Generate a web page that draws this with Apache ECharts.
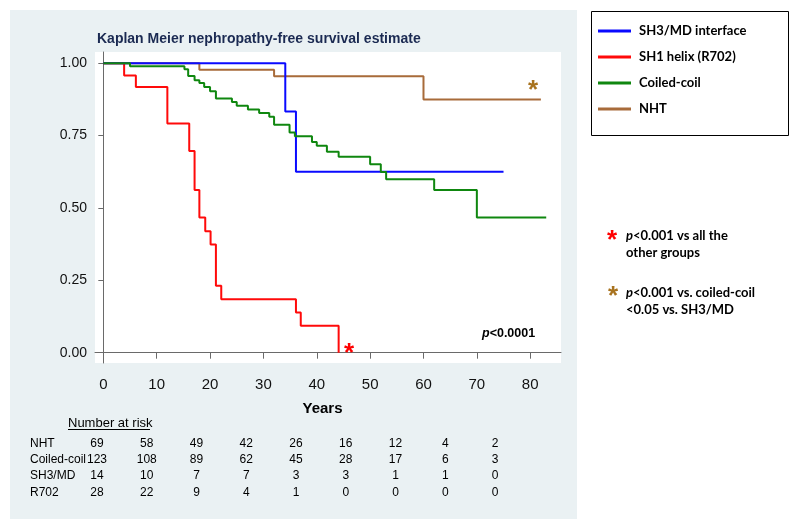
<!DOCTYPE html>
<html><head><meta charset="utf-8">
<script src="https://cdn.jsdelivr.net/npm/echarts@6/dist/echarts.min.js"></script>
<style>html,body{margin:0;padding:0;background:#fff}#c{width:800px;height:530px}</style>
</head><body><div id="c"></div>
<script>
// ---- data ----
const seriesNames = ['SH3/MD interface', 'SH1 helix (R702)', 'Coiled-coil', 'NHT'];
const seriesColors = ['#0a0aff', '#ff0a0a', '#0f870f', '#a86b3a'];
const sh3Years = [0, 34.1, 36.1, 75];
const sh3Surv  = [1, 0.833, 0.625, 0.625];
const r702Years = [0, 3.9, 6.1, 12, 16.1, 17.1, 18, 19.1, 20.1, 21.1, 22.1, 36.1, 37, 44.1];
const r702Surv  = [1, 0.958, 0.918, 0.792, 0.697, 0.562, 0.467, 0.42, 0.374, 0.231, 0.185, 0.139, 0.093, 0];
const ccYears = [0, 5, 15.2, 15.9, 17.1, 18, 18.9, 20, 21.1, 24.1, 25, 27.1, 29.2, 31.1, 32, 34.9, 35.9, 39.1, 40, 41.9, 44.1, 50, 52, 53, 62, 70, 83];
const ccSurv  = [1, 0.99, 0.979, 0.956, 0.941, 0.932, 0.918, 0.903, 0.878, 0.866, 0.853, 0.84, 0.828, 0.815, 0.788, 0.761, 0.748, 0.728, 0.715, 0.694, 0.677, 0.651, 0.624, 0.599, 0.562, 0.467, 0.467];
const nhtYears = [0, 18, 32, 60, 82];
const nhtSurv  = [1, 0.978, 0.955, 0.875, 0.875];
const xTicks = [0, 10, 20, 30, 40, 50, 60, 70, 80];
const yTicks = [0, 0.25, 0.5, 0.75, 1];
const riskRowLabels = ['NHT', 'Coiled-coil', 'SH3/MD', 'R702'];
const riskNHT  = [69, 58, 49, 42, 26, 16, 12, 4, 2];
const riskCC   = [123, 108, 89, 62, 45, 28, 17, 6, 3];
const riskSH3  = [14, 10, 7, 7, 3, 3, 1, 1, 0];
const riskR702 = [28, 22, 9, 4, 1, 0, 0, 0, 0];

const pair = (xs, ys) => xs.map((x, i) => [x, ys[i]]);
const chart = echarts.init(document.getElementById('c'));

const ARIAL = '"Liberation Sans", Arial, sans-serif';
const CAL = 'Lato, "Open Sans", sans-serif';

const graphics = [];
// panel background
graphics.push({type: 'rect', z: -10, shape: {x: 10, y: 10, width: 567, height: 509}, style: {fill: '#eaf1f3'}, silent: true});
// legend box
graphics.push({type: 'rect', z: 5, shape: {x: 591.5, y: 11.5, width: 197, height: 124}, style: {fill: 'none', stroke: '#000', lineWidth: 1}});
// annotations right
graphics.push({type: 'text', z: 5, style: {x: 612, y: 241, text: '*', font: 'bold 26px ' + ARIAL, fill: '#ff0000', textAlign: 'center', textVerticalAlign: 'middle'}});
graphics.push({type: 'text', z: 5, style: {x: 626, y: 236, text: '{i|p}<0.001 vs all the', font: 'bold 13px ' + CAL, fill: '#000', textVerticalAlign: 'middle', rich: {i: {fontStyle: 'italic', fontWeight: 'bold', fontSize: 13, fontFamily: CAL}}}});
graphics.push({type: 'text', z: 5, style: {x: 626, y: 253, text: 'other groups', font: 'bold 13px ' + CAL, fill: '#000', textVerticalAlign: 'middle'}});
graphics.push({type: 'text', z: 5, style: {x: 613, y: 297, text: '*', font: 'bold 26px ' + ARIAL, fill: '#a8731f', textAlign: 'center', textVerticalAlign: 'middle'}});
graphics.push({type: 'text', z: 5, style: {x: 626, y: 293, text: '{i|p}<0.001 vs. coiled-coil', font: 'bold 13px ' + CAL, fill: '#000', textVerticalAlign: 'middle', rich: {i: {fontStyle: 'italic', fontWeight: 'bold', fontSize: 13, fontFamily: CAL}}}});
graphics.push({type: 'text', z: 5, style: {x: 626, y: 310, text: '<0.05 vs. SH3/MD', font: 'bold 13px ' + CAL, fill: '#000', textVerticalAlign: 'middle'}});
// in-plot annotations
graphics.push({type: 'text', z: 5, style: {x: 349, y: 354, text: '*', font: 'bold 26px ' + ARIAL, fill: '#ff0000', textAlign: 'center', textVerticalAlign: 'middle'}});
graphics.push({type: 'text', z: 5, style: {x: 533, y: 91, text: '*', font: 'bold 26px ' + ARIAL, fill: '#a8731f', textAlign: 'center', textVerticalAlign: 'middle'}});
graphics.push({type: 'text', z: 5, style: {x: 482, y: 334, text: '{i|p}<0.0001', font: 'bold 12.5px ' + ARIAL, fill: '#000', textVerticalAlign: 'middle', rich: {i: {fontStyle: 'italic', fontWeight: 'bold', fontSize: 12.5, fontFamily: ARIAL}}}});
// number at risk table
graphics.push({type: 'text', z: 5, style: {x: 68, y: 423, text: 'Number at risk', font: '13px ' + ARIAL, fill: '#000', textVerticalAlign: 'middle'}});
graphics.push({type: 'line', z: 5, shape: {x1: 68, y1: 429.5, x2: 150, y2: 429.5}, style: {stroke: '#000', lineWidth: 1}});
const riskRows = [riskNHT, riskCC, riskSH3, riskR702];
riskRows.forEach((row, r) => {
  const y = 443.3 + r * 16.35;
  graphics.push({type: 'text', z: 5, style: {x: 30, y: y, text: riskRowLabels[r], font: '12px ' + ARIAL, fill: '#000', textVerticalAlign: 'middle'}});
  row.forEach((v, i) => {
    graphics.push({type: 'text', z: 5, style: {x: 97 + i * 49.75, y: y, text: String(v), font: '12px ' + ARIAL, fill: '#000', textAlign: 'center', textVerticalAlign: 'middle'}});
  });
});

const mkSeries = (idx, xs, ys) => ({
  name: seriesNames[idx], type: 'line', step: 'end', data: pair(xs, ys),
  showSymbol: false, symbol: 'none', animation: false,
  lineStyle: {color: seriesColors[idx], width: 2}, itemStyle: {color: seriesColors[idx]}
});

chart.setOption({
  backgroundColor: '#ffffff',
  animation: false,
  title: {text: 'Kaplan Meier nephropathy-free survival estimate', left: 97, top: 31, padding: 0,
    textStyle: {fontFamily: ARIAL, fontSize: 14, fontWeight: 'bold', color: '#1b2a52', lineHeight: 16}},
  legend: {
    data: seriesNames, orient: 'vertical', left: 598, top: 23, padding: 0, icon: 'rect', itemWidth: 33, itemHeight: 3,
    itemGap: 10, selectedMode: false,
    textStyle: {fontFamily: CAL, fontSize: 13, fontWeight: 'bold', color: '#000', lineHeight: 16, padding: [0, 0, 0, 3]}
  },
  grid: {left: 95, right: 239, top: 52, bottom: 167, show: true, backgroundColor: '#ffffff', borderWidth: 0, containLabel: false},
  xAxis: {
    type: 'value', min: -1.56, max: 85.77,
    name: 'Years', nameLocation: 'middle', nameGap: 38,
    nameTextStyle: {fontFamily: ARIAL, fontSize: 15, fontWeight: 'bold', color: '#000', padding: [0, 11, 0, 0]},
    axisLine: {show: true, lineStyle: {color: '#6a6a6a', width: 1}},
    axisTick: {show: true, length: 6, customValues: xTicks, lineStyle: {color: '#6a6a6a'}},
    axisLabel: {customValues: xTicks, margin: 14, fontFamily: ARIAL, fontSize: 15, color: '#111'},
    splitLine: {show: false}
  },
  yAxis: {
    type: 'value', min: -0.0356, max: 1.039,
    axisLine: {show: true, lineStyle: {color: '#6a6a6a', width: 1}},
    axisTick: {show: true, length: 5, customValues: yTicks, lineStyle: {color: '#6a6a6a'}},
    axisLabel: {customValues: yTicks, margin: 8, fontFamily: ARIAL, fontSize: 14, color: '#111', formatter: v => v.toFixed(2)},
    splitLine: {show: false}
  },
  graphic: graphics,
  series: [
    mkSeries(3, nhtYears, nhtSurv),
    mkSeries(1, r702Years, r702Surv),
    mkSeries(0, sh3Years, sh3Surv),
    mkSeries(2, ccYears, ccSurv)
  ]
});
</script></body></html>
